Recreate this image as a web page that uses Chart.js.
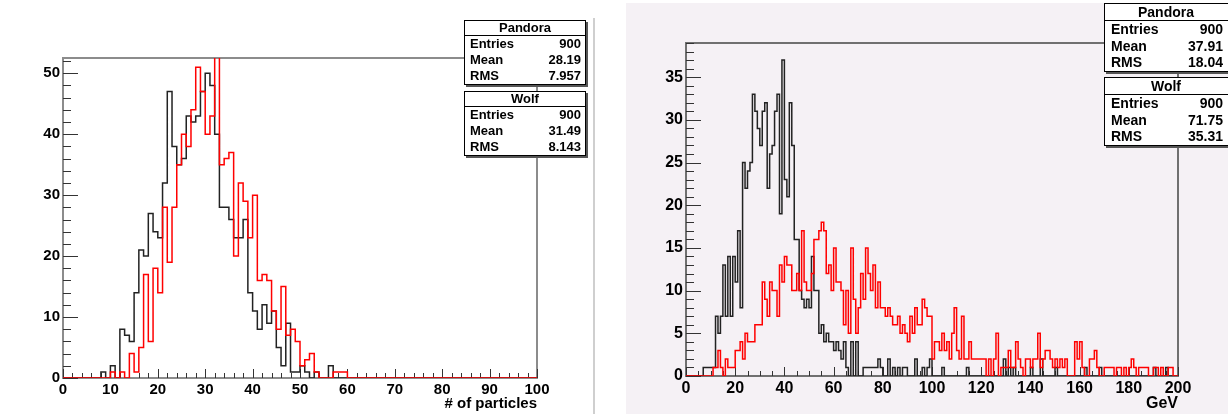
<!DOCTYPE html>
<html>
<head>
<meta charset="utf-8">
<script src="https://cdn.jsdelivr.net/npm/chart.js@4.4.1/dist/chart.umd.min.js"></script>
<style>
  body { margin: 0; width: 1228px; height: 414px; overflow: hidden; background: #fff; position: relative;
         font-family: "Liberation Sans", Arial, sans-serif; }
  #leftWrap { position: absolute; left: 0; top: 0; width: 592px; height: 414px; }
  #sep { position: absolute; left: 593px; top: 18px; width: 2px; height: 396px; background: #cfcfcf; }
  #rightWrap { position: absolute; left: 626px; top: 3px; width: 602px; height: 411px; background: #f5f1f5; }
  .stats { position: absolute; background: #fff; border: 1px solid #000; box-shadow: 2px 2px 0 #555;
           font-weight: bold; color: #000; box-sizing: content-box; }
  .stats .t { text-align: center; border-bottom: 1px solid #000; }
  .stats .r { display: flex; justify-content: space-between; }
  .small { width: 120px; font-size: 13px; }
  .small .t { height: 14px; line-height: 14px; }
  .small .r { height: 16px; line-height: 16px; padding: 0 4px 0 5px; }
  .big { width: 128px; font-size: 14px; }
  .big .t { height: 16px; line-height: 16px; padding-right: 6px; }
  .big .r { height: 16.5px; line-height: 16.5px; padding: 0 10px 0 6px; }
</style>
</head>
<body>
<div id="leftWrap"><canvas id="nparticles" width="592" height="414"></canvas></div>
<div id="sep"></div>
<div id="rightWrap"><canvas id="energy" width="602" height="411"></canvas></div>

<div class="stats small" style="left:464px;top:20px">
  <div class="t">Pandora</div>
  <div class="r"><span>Entries</span><span>900</span></div>
  <div class="r"><span>Mean</span><span>28.19</span></div>
  <div class="r"><span>RMS</span><span>7.957</span></div>
</div>
<div class="stats small" style="left:464px;top:91px">
  <div class="t">Wolf</div>
  <div class="r"><span>Entries</span><span>900</span></div>
  <div class="r"><span>Mean</span><span>31.49</span></div>
  <div class="r"><span>RMS</span><span>8.143</span></div>
</div>
<div class="stats big" style="left:1104px;top:3px">
  <div class="t">Pandora</div>
  <div class="r"><span>Entries</span><span>900</span></div>
  <div class="r"><span>Mean</span><span>37.91</span></div>
  <div class="r"><span>RMS</span><span>18.04</span></div>
</div>
<div class="stats big" style="left:1104px;top:77px">
  <div class="t">Wolf</div>
  <div class="r"><span>Entries</span><span>900</span></div>
  <div class="r"><span>Mean</span><span>71.75</span></div>
  <div class="r"><span>RMS</span><span>35.31</span></div>
</div>

<script>
// number of particles, 100 bins of width 1 (0..100)
const nPandora = [
  0, 0, 0, 0, 0, 0, 0, 0, 1, 0,   2, 0, 8, 7, 6, 14, 21, 20, 27, 24,
  23, 32, 47, 38, 35, 36, 43, 42, 43, 47,   50, 48, 40, 28, 28, 26, 23, 23, 26, 14,
  11, 8, 12, 9, 11, 5, 2, 9, 1, 1,   2, 1, 0, 1, 0, 0, 2, 0, 0, 0,
  0, 0, 0, 0, 0, 0, 0, 0, 0, 0,   0, 0, 0, 0, 0, 0, 0, 0, 0, 0,
  0, 0, 0, 0, 0, 0, 0, 0, 0, 0,   0, 0, 0, 0, 0, 0, 0, 0, 0, 0
];
const nWolf = [
  0, 0, 0, 0, 0, 0, 0, 0, 0, 0,   1, 0, 1, 0, 4, 1, 5, 17, 6, 18,
  14, 28, 19, 28, 35, 40, 38, 44, 51, 47,   40, 43, 56, 35, 36, 37, 20, 32, 29, 23,
  30, 16, 17, 16, 11, 8, 15, 7, 8, 6,   2, 3, 4, 1, 0, 0, 0, 1, 1, 1,
  0, 0, 0, 0, 0, 0, 0, 0, 0, 0,   0, 0, 0, 0, 0, 0, 0, 0, 0, 0,
  0, 0, 0, 0, 0, 0, 0, 0, 0, 0,   0, 0, 0, 0, 0, 0, 0, 0, 0, 0
];

// energy in GeV, 200 bins of width 1 (0..200)
const ePandora = [
  0, 0, 0, 0, 0, 0, 0, 1, 1, 1,   1, 1, 7, 5, 7, 13, 7, 14, 7, 14,
  11, 17, 8, 25, 22, 24, 25, 33, 31, 29,   27, 31, 32, 22, 26, 27, 31, 33, 19, 37,
  23, 21, 32, 27, 16, 16, 10, 9, 8, 9,   8, 14, 10, 10, 5, 6, 4, 5, 4, 4,
  3, 4, 3, 2, 4, 1, 0, 4, 0, 4,   0, 0, 1, 1, 1, 1, 1, 1, 2, 1,
  0, 0, 2, 0, 1, 0, 1, 0, 1, 1,   0, 0, 0, 2, 0, 0, 1, 0, 1, 2,
  0, 0, 0, 0, 1, 0, 0, 0, 0, 0,   0, 0, 0, 0, 1, 0, 0, 0, 0, 0,
  0, 0, 0, 0, 0, 0, 0, 0, 0, 2,   0, 1, 0, 1, 0, 0, 0, 0, 0, 0,
  1, 0, 0, 0, 2, 0, 0, 0, 0, 0,   1, 0, 0, 0, 0, 0, 0, 0, 0, 0,
  0, 0, 1, 0, 0, 0, 0, 0, 1, 0,   0, 0, 0, 0, 0, 0, 0, 0, 0, 0,
  0, 0, 0, 0, 0, 0, 0, 0, 0, 0,   1, 0, 0, 0, 0, 1, 0, 0, 0, 0
];
const eWolf = [
  0, 0, 0, 0, 0, 0, 0, 0, 0, 0,   0, 1, 1, 3, 1, 0, 2, 1, 1, 1,
  3, 3, 4, 2, 5, 4, 4, 4, 6, 6,   6, 11, 9, 7, 11, 10, 10, 7, 13, 11,
  14, 13, 13, 10, 10, 12, 10, 17, 11, 10,   10, 12, 16, 16, 17, 18, 17, 12, 13, 10,
  15, 11, 11, 10, 6, 10, 5, 15, 9, 5,   8, 12, 9, 15, 12, 10, 13, 8, 11, 8,
  8, 7, 8, 7, 6, 6, 7, 5, 6, 5,   4, 7, 5, 8, 6, 6, 9, 8, 7, 7,
  2, 4, 4, 3, 5, 3, 4, 2, 5, 8,   3, 2, 7, 2, 2, 4, 2, 2, 2, 2,
  2, 2, 0, 2, 0, 2, 5, 0, 1, 1,   1, 3, 1, 1, 4, 2, 1, 0, 2, 2,
  1, 2, 2, 5, 1, 2, 3, 3, 2, 1,   2, 1, 2, 1, 2, 0, 0, 0, 4, 2,
  4, 1, 0, 0, 2, 2, 3, 1, 0, 0,   1, 1, 1, 1, 0, 1, 1, 0, 1, 0,
  1, 2, 1, 0, 1, 1, 1, 1, 0, 0,   1, 1, 0, 1, 0, 0, 1, 1, 0, 0
];

const nTicks = { xMax: 100, xStep: 10, xMinor: 2, yMax: 52.5, yStep: 10, yMinor: 2 };
const eTicks = { xMax: 200, xStep: 20, xMinor: 5, yMax: 39, yStep: 5, yMinor: 1 };

// bin contents -> step points, last point closes the final bin
function hist(arr) {
  const pts = arr.map((v, i) => ({ x: i, y: v }));
  pts.push({ x: arr.length, y: arr[arr.length - 1] });
  return pts;
}

// ROOT-like frame with ticks pointing into the pad
const rootFrame = {
  id: 'rootFrame',
  beforeDatasetsDraw(chart, args, o) {
    const { ctx, chartArea: a, scales: { x, y } } = chart;
    ctx.save();
    ctx.strokeStyle = o.frameColor;
    ctx.lineWidth = o.frameWidth;
    ctx.strokeRect(a.left, a.top, a.right - a.left, a.bottom - a.top);

    ctx.strokeStyle = o.tickColor;
    ctx.lineWidth = 1;
    ctx.beginPath();
    for (let v = 0; v <= y.max + 1e-9; v += o.yMinor) {
      const py = Math.round(y.getPixelForValue(v)) + 0.5;
      const major = Math.abs(v / o.yStep - Math.round(v / o.yStep)) < 1e-6;
      ctx.moveTo(a.left, py);
      ctx.lineTo(a.left + (major ? o.yMajorLen : o.yMinorLen), py);
    }
    for (let v = 0; v <= x.max + 1e-9; v += o.xMinor) {
      const px = Math.round(x.getPixelForValue(v)) + 0.5;
      const major = Math.abs(v / o.xStep - Math.round(v / o.xStep)) < 1e-6;
      ctx.moveTo(px, a.bottom);
      ctx.lineTo(px, a.bottom - (major ? o.xMajorLen : o.xMinorLen));
    }
    ctx.stroke();
    ctx.restore();
  }
};

function makeHist(id, black, red, t, cfg) {
  const font = { family: '"Liberation Sans", Arial, sans-serif', size: cfg.fontSize, weight: 'bold' };
  return new Chart(document.getElementById(id), {
    type: 'line',
    data: {
      datasets: [
        { label: 'Wolf', data: hist(red), borderColor: '#ff0000', borderWidth: 1.5, stepped: 'before', pointRadius: 0, fill: false },
        { label: 'Pandora', data: hist(black), borderColor: '#222222', borderWidth: 1.5, stepped: 'before', pointRadius: 0, fill: false }
      ]
    },
    options: {
      responsive: false,
      animation: false,
      layout: { padding: cfg.padding },
      plugins: {
        legend: { display: false },
        tooltip: { enabled: false },
        rootFrame: Object.assign({
          frameColor: cfg.frameColor, frameWidth: 2, tickColor: '#333',
          yMajorLen: 15, yMinorLen: 8, xMajorLen: 9, xMinorLen: 5
        }, t)
      },
      scales: {
        x: {
          type: 'linear', min: 0, max: t.xMax,
          grid: { display: false, drawTicks: false },
          border: { display: false },
          ticks: { stepSize: t.xStep, includeBounds: false, autoSkip: false, maxRotation: 0, padding: 3, color: '#000', font },
          title: { display: true, text: cfg.xTitle, align: 'end', color: '#000', font, padding: { top: 0, bottom: 1 } },
          afterFit: s => { s.height = cfg.xHeight; }
        },
        y: {
          type: 'linear', min: 0, max: t.yMax,
          grid: { display: false, drawTicks: false },
          border: { display: false },
          ticks: { stepSize: t.yStep, includeBounds: false, padding: 3, color: '#000', font },
          afterFit: s => { s.width = cfg.yWidth; }
        }
      }
    },
    plugins: [rootFrame]
  });
}

makeHist('nparticles', nPandora, nWolf, nTicks, {
  fontSize: 15, xTitle: '# of particles', frameColor: '#8c8c8c',
  padding: { left: 0, top: 58, right: 55, bottom: 0 }, xHeight: 36, yWidth: 63
});
makeHist('energy', ePandora, eWolf, eTicks, {
  fontSize: 16, xTitle: 'GeV', frameColor: '#707070',
  padding: { left: 0, top: 40, right: 50, bottom: 0 }, xHeight: 38, yWidth: 60
});
</script>
</body>
</html>
